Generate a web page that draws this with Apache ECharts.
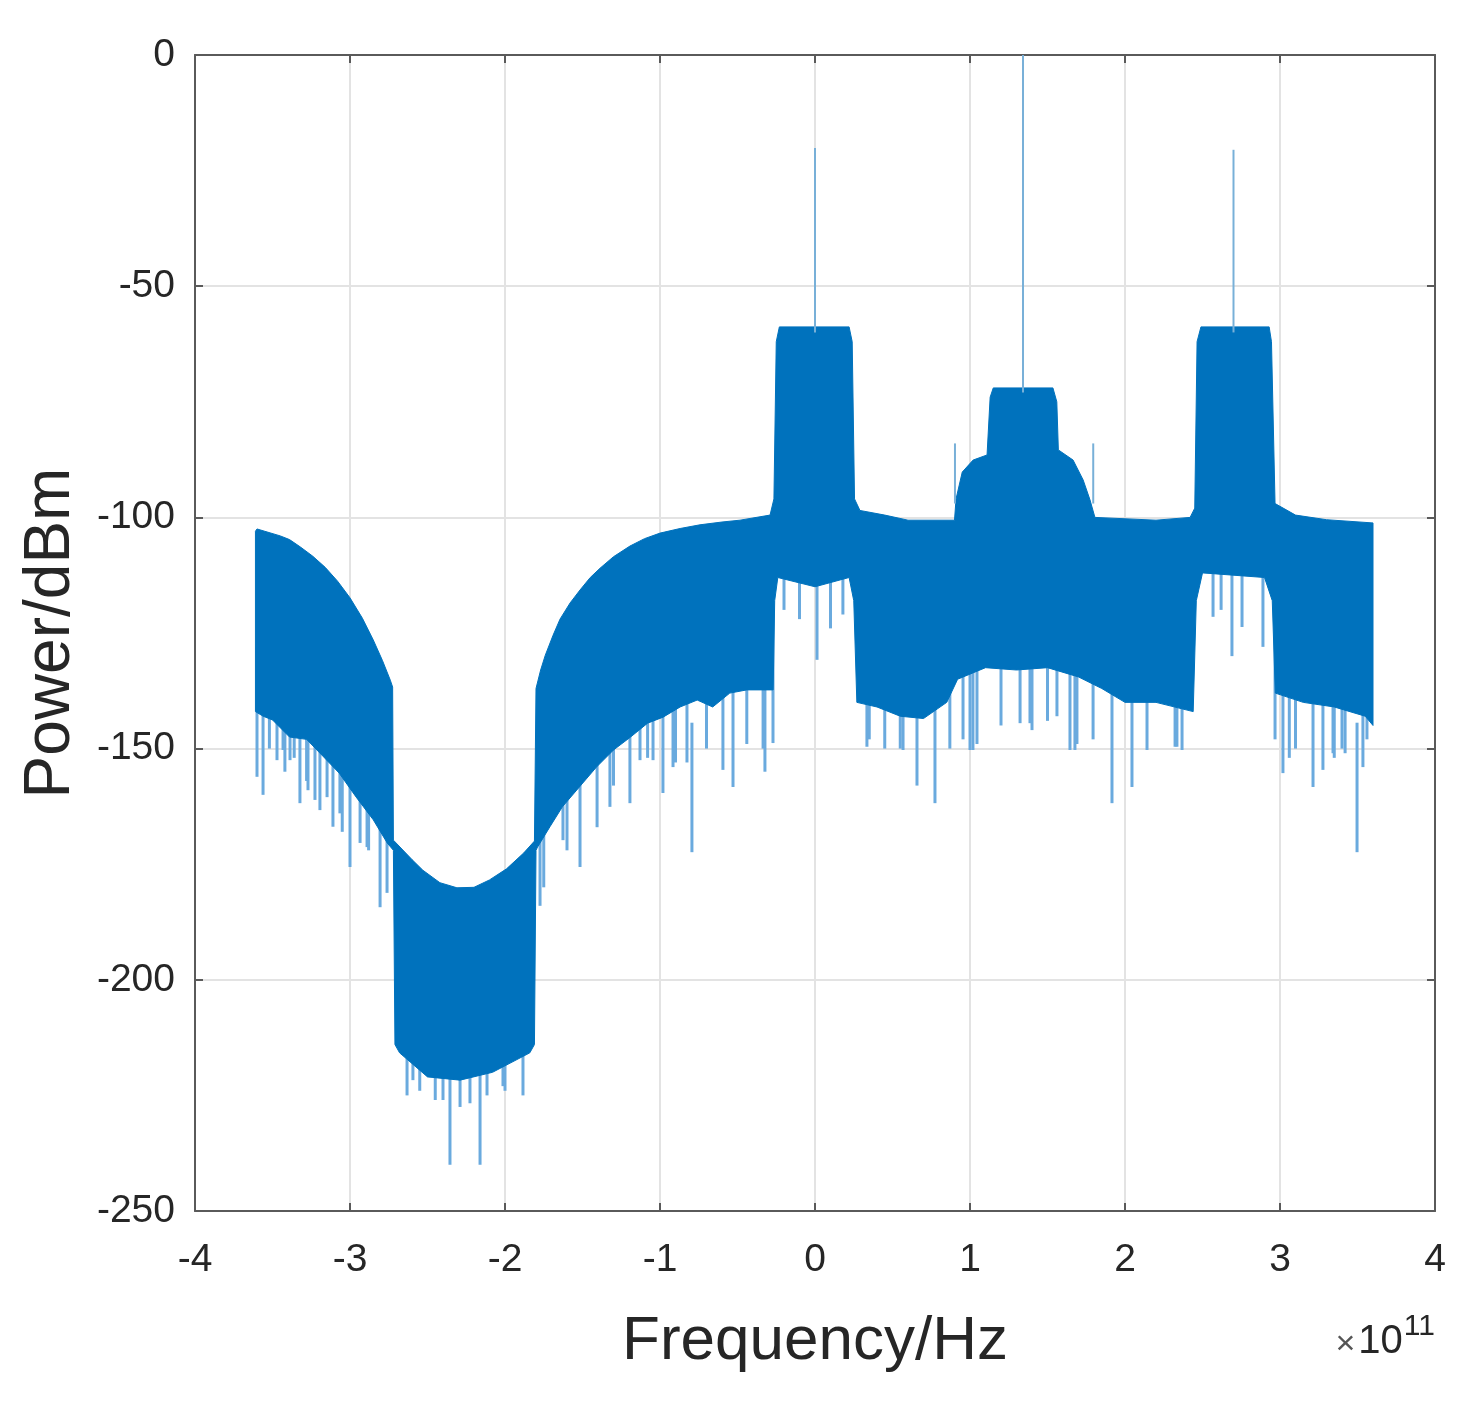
<!DOCTYPE html>
<html>
<head>
<meta charset="utf-8">
<title>Power spectrum</title>
<script src="https://cdn.jsdelivr.net/npm/echarts@6/dist/echarts.min.js"></script>
<style>
  html, body { margin: 0; padding: 0; background: #fff; }
  #chart { width: 1475px; height: 1414px; }
</style>
</head>
<body>
<div id="chart"></div>
<script>
// frequency in units of 1e11 Hz, power in dBm
var xTicks = [-4, -3, -2, -1, 0, 1, 2, 3, 4];
var yTicks = [-250, -200, -150, -100, -50, 0];

// top edge of the noise band, left to right
var upperEnvelope = [
  [-3.61, -103], [-3.60, -102.5], [-3.55, -103], [-3.45, -104], [-3.39, -104.8],
  [-3.32, -106.4], [-3.24, -108.4], [-3.16, -110.8], [-3.08, -113.8], [-3.00, -117.4],
  [-2.92, -121.8], [-2.85, -126.5], [-2.79, -131], [-2.74, -135.2], [-2.725, -136.7],
  [-2.72, -169.8], [-2.60, -174], [-2.53, -176.3], [-2.42, -179], [-2.31, -180.1],
  [-2.20, -180], [-2.10, -178.4], [-1.99, -176], [-1.88, -172.6], [-1.81, -170],
  [-1.80, -137], [-1.77, -133], [-1.74, -129.8], [-1.69, -125.5], [-1.645, -122],
  [-1.58, -118.5], [-1.516, -115.7], [-1.45, -113], [-1.387, -111], [-1.30, -108.5],
  [-1.194, -106.2], [-1.10, -104.6], [-1.00, -103.4], [-0.87, -102.4], [-0.742, -101.6],
  [-0.60, -101], [-0.484, -100.6], [-0.29, -99.5], [-0.265, -96], [-0.25, -62],
  [-0.23, -58.8], [0.22, -58.8], [0.24, -62], [0.255, -96], [0.29, -98.5],
  [0.45, -99.5], [0.60, -100.6], [0.90, -100.6], [0.91, -96], [0.95, -90.2],
  [1.02, -87.6], [1.11, -86.5], [1.13, -74], [1.15, -72], [1.535, -72],
  [1.56, -75], [1.57, -85.4], [1.665, -87.6], [1.73, -91.9], [1.774, -96.2],
  [1.806, -100], [2.20, -100.6], [2.42, -100], [2.45, -98], [2.465, -62],
  [2.49, -58.8], [2.93, -58.8], [2.945, -62], [2.968, -97], [3.10, -99.5],
  [3.30, -100.5], [3.60, -101.2]
];

// solid bottom edge of the noise band, left to right
var lowerEnvelope = [
  [-3.61, -142], [-3.56, -143], [-3.50, -143.8], [-3.39, -147.5], [-3.28, -148],
  [-3.17, -151.8], [-3.07, -155.3], [-2.96, -160.5], [-2.85, -165.4], [-2.76, -170.4],
  [-2.72, -172], [-2.71, -214], [-2.68, -215.8], [-2.50, -221], [-2.29, -221.7],
  [-2.08, -220], [-1.84, -215.8], [-1.81, -214], [-1.80, -172], [-1.79, -171.3],
  [-1.71, -166.9], [-1.63, -162.6], [-1.52, -158.3], [-1.41, -154], [-1.30, -150.3],
  [-1.19, -147.5], [-1.08, -144.5], [-0.98, -143.2], [-0.87, -141], [-0.76, -139.5],
  [-0.66, -141], [-0.55, -138], [-0.44, -137.3], [-0.27, -137.3], [-0.26, -118],
  [-0.24, -113], [0.00, -115], [0.22, -113], [0.25, -118], [0.27, -140],
  [0.40, -141], [0.55, -143], [0.70, -143.5], [0.85, -140], [0.92, -135],
  [1.10, -132.5], [1.30, -133], [1.50, -132.5], [1.70, -134.5], [1.85, -137],
  [2.00, -140], [2.20, -140], [2.44, -142], [2.46, -118], [2.50, -112],
  [2.90, -113], [2.95, -118], [2.97, -138], [3.15, -140], [3.35, -141],
  [3.55, -143], [3.60, -145]
];

// thin noise dips below the band: [frequency, lowest dBm]
var noiseDips = [
  [-3.600, -156.1], [-3.561, -160], [-3.52, -150], [-3.471, -152.5], [-3.432, -150.3],
  [-3.42, -155], [-3.387, -152.5], [-3.36, -152], [-3.323, -161.8], [-3.28, -157],
  [-3.271, -159], [-3.226, -161.1], [-3.194, -163.3], [-3.148, -160.5], [-3.110, -166.9],
  [-3.065, -164], [-3.05, -168], [-3.000, -175.6], [-2.935, -170.4], [-2.890, -171.3],
  [-2.88, -172], [-2.806, -184.3], [-2.761, -181.2],
  [-2.632, -225], [-2.594, -221.7], [-2.55, -224], [-2.45, -226], [-2.40, -226],
  [-2.355, -240], [-2.290, -227.5], [-2.226, -226.7], [-2.161, -240], [-2.116, -225],
  [-2.013, -223], [-2.00, -224], [-1.884, -225],
  [-1.774, -184], [-1.75, -180], [-1.626, -169.8], [-1.60, -172], [-1.516, -175.6],
  [-1.406, -167], [-1.323, -162.6], [-1.30, -158], [-1.194, -161.8], [-1.129, -152.5],
  [-1.08, -152], [-1.045, -152.5], [-0.981, -159.6], [-0.916, -154], [-0.90, -153],
  [-0.826, -153], [-0.794, -172.4], [-0.70, -150], [-0.594, -154.6], [-0.529, -158.3],
  [-0.44, -149], [-0.335, -150], [-0.323, -155], [-0.271, -148.8],
  [-0.20, -120], [-0.10, -122], [0.013, -130.8], [0.10, -124], [0.18, -121],
  [0.335, -149.6], [0.35, -148], [0.45, -150], [0.55, -150], [0.568, -150.3],
  [0.658, -158], [0.774, -161.8], [0.87, -150], [0.955, -148], [1.00, -150.3],
  [1.019, -150.3], [1.045, -149], [1.20, -145], [1.323, -144.5], [1.387, -144.5],
  [1.40, -146], [1.50, -144], [1.561, -143], [1.645, -150.3], [1.677, -150.3],
  [1.69, -149], [1.794, -148], [1.916, -161.8], [2.045, -158.3], [2.142, -150.3],
  [2.323, -149.6], [2.335, -149.6], [2.368, -150.3],
  [2.568, -121.5], [2.62, -120], [2.690, -130], [2.755, -123.7], [2.890, -128],
  [2.968, -148], [3.019, -155.3], [3.06, -152], [3.10, -150], [3.213, -158.3],
  [3.277, -154.6], [3.342, -151], [3.35, -152], [3.40, -150], [3.42, -151],
  [3.497, -172.4], [3.535, -154], [3.561, -148]
];

// carrier lines: [frequency, base dBm, peak dBm]
var carriers = [
  [0.00, -60, -20.1],
  [1.342, -73, 0],
  [2.70, -60, -20.5],
  [0.903, -97, -84],
  [1.795, -97, -84]
];

var bandColor = '#0072BD';
var dipColor = '#6aaade';
var carrierColor = '#78b0d8';
var fontFamily = '"Liberation Sans", Arial, Helvetica, sans-serif';

var chart = echarts.init(document.getElementById('chart'));

var axisLineStyle = { color: '#5a5a5a', width: 2 };

var option = {
  animation: false,
  backgroundColor: '#fff',
  grid: {
    left: 195,
    right: 40,
    top: 55,
    bottom: 203,
    outerBoundsMode: 'none'
  },
  xAxis: [
    {
      type: 'value',
      min: -4,
      max: 4,
      interval: 1,
      name: 'Frequency/Hz',
      nameLocation: 'middle',
      nameGap: 100,
      nameTextStyle: { fontSize: 62, color: '#262626', fontFamily: fontFamily },
      axisLine: { show: true, onZero: false, lineStyle: axisLineStyle },
      axisTick: { show: true, inside: true, length: 8, lineStyle: axisLineStyle },
      axisLabel: {
        show: true, margin: 30, fontSize: 39, color: '#262626', fontFamily: fontFamily,
        showMinLabel: true, showMaxLabel: true
      },
      splitLine: { show: true, lineStyle: { color: '#e3e3e3', width: 2 } }
    },
    {
      type: 'value',
      position: 'top',
      min: -4,
      max: 4,
      interval: 1,
      axisLine: { show: true, onZero: false, lineStyle: axisLineStyle },
      axisTick: { show: true, inside: true, length: 8, lineStyle: axisLineStyle },
      axisLabel: { show: false },
      splitLine: { show: false }
    }
  ],
  yAxis: [
    {
      type: 'value',
      min: -250,
      max: 0,
      interval: 50,
      name: 'Power/dBm',
      nameLocation: 'middle',
      nameRotate: 90,
      nameGap: 112,
      nameTextStyle: { fontSize: 64, color: '#262626', fontFamily: fontFamily },
      axisLine: { show: true, onZero: false, lineStyle: axisLineStyle },
      axisTick: { show: true, inside: true, length: 8, lineStyle: axisLineStyle },
      axisLabel: {
        show: true, margin: 20, fontSize: 39, color: '#262626', fontFamily: fontFamily,
        showMinLabel: true, showMaxLabel: true
      },
      splitLine: { show: true, lineStyle: { color: '#e3e3e3', width: 2 } }
    },
    {
      type: 'value',
      position: 'right',
      min: -250,
      max: 0,
      interval: 50,
      axisLine: { show: true, onZero: false, lineStyle: axisLineStyle },
      axisTick: { show: true, inside: true, length: 8, lineStyle: axisLineStyle },
      axisLabel: { show: false },
      splitLine: { show: false }
    }
  ],
  series: [
    {
      // thin dips under the band
      type: 'custom',
      name: 'dips',
      z: 2,
      data: noiseDips,
      encode: { x: 0, y: 1 },
      renderItem: function (params, api) {
        var tip = api.coord([api.value(0), api.value(1)]);
        var base = api.coord([api.value(0), api.value(1) + 28]);
        return {
          type: 'line',
          shape: { x1: tip[0], y1: tip[1], x2: base[0], y2: base[1] },
          style: { stroke: dipColor, lineWidth: 3 }
        };
      }
    },
    {
      // noise band between the two envelopes
      type: 'custom',
      name: 'band',
      z: 3,
      data: [upperEnvelope[0]],
      encode: { x: 0, y: 1 },
      renderItem: function (params, api) {
        var pts = upperEnvelope.map(function (p) { return api.coord(p); });
        var low = lowerEnvelope.slice().reverse().map(function (p) { return api.coord(p); });
        return {
          type: 'polygon',
          shape: { points: pts.concat(low) },
          style: { fill: bandColor, stroke: bandColor, lineWidth: 1 }
        };
      }
    },
    {
      // carrier spikes
      type: 'custom',
      name: 'carriers',
      z: 4,
      data: carriers,
      encode: { x: 0, y: [1, 2] },
      renderItem: function (params, api) {
        var a = api.coord([api.value(0), api.value(1)]);
        var b = api.coord([api.value(0), api.value(2)]);
        return {
          type: 'line',
          shape: { x1: a[0], y1: a[1], x2: b[0], y2: b[1] },
          style: { stroke: carrierColor, lineWidth: 2 }
        };
      }
    }
  ],
  graphic: [
    {
      type: 'text',
      right: 40,
      top: 1312,
      style: {
        text: '{x|×}{b|10}{s|11}',
        fill: '#262626',
        rich: {
          x: { fontSize: 34, fontFamily: fontFamily, fill: '#555', verticalAlign: 'bottom', padding: [0, 3, 0, 0] },
          b: { fontSize: 40, fontFamily: fontFamily, fill: '#262626', verticalAlign: 'bottom' },
          s: { fontSize: 30, fontFamily: fontFamily, fill: '#262626', verticalAlign: 'top', padding: [0, 0, 20, 1] }
        }
      }
    }
  ]
};

chart.setOption(option);
</script>
</body>
</html>
